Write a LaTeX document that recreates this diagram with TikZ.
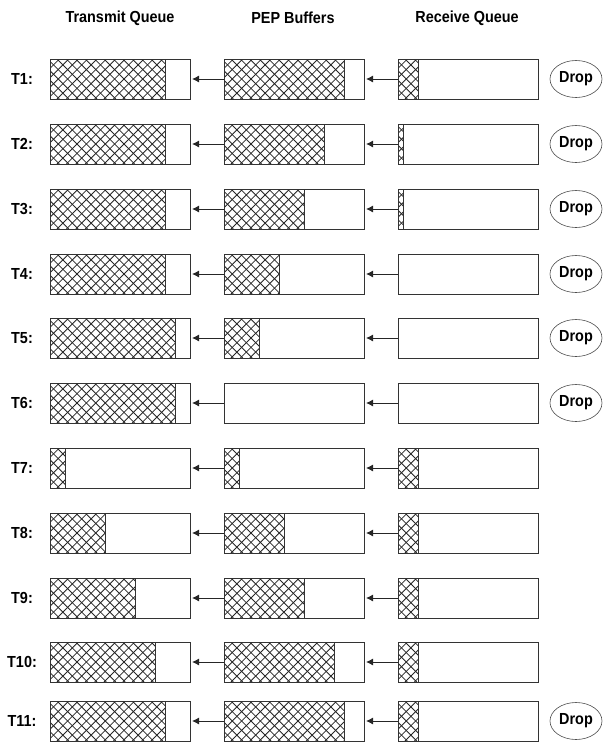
\documentclass[tikz,border=0pt]{standalone}
\usepackage{fontspec}
\newfontfamily\qfont[FakeStretch=0.9]{Liberation Sans}
\usetikzlibrary{shapes.geometric,arrows.meta}

\tikzset{
  qbox/.style={draw=black!80, line width=0.9pt, minimum width=140pt, minimum height=40pt,
               inner sep=0pt, outer sep=0pt},
  hatchline/.style={draw=black!85, line width=0.8pt},
  qsplit/.style={draw=black!80, line width=0.9pt},
  flow/.style={draw=black!85, line width=0.9pt, -{Latex[length=7pt,width=7pt]}, shorten >=2pt},
  dropnode/.style={ellipse, draw=black!70, line width=0.6pt, minimum width=52pt, minimum height=37pt,
                   inner sep=0pt, font=\qfont\bfseries\fontsize{16}{18}\selectfont},
  rowlabel/.style={font=\qfont\bfseries\fontsize{16}{18}\selectfont, inner sep=0pt},
  heading/.style={font=\qfont\bfseries\fontsize{16}{18}\selectfont, inner sep=0pt}
}

% cross-hatched block from x=#1 to x=#2, centred on y=#3, closed by a divider at #2
\newcommand\qhatch[3]{%
  \begin{scope}
    \clip (#1,#3-20) rectangle (#2,#3+20);
    \foreach \k in {0,...,22} {
      \draw[hatchline] (#1-40+9.4*\k,#3-20) -- ++(40,40);
      \draw[hatchline] (#1-40+9.4*\k,#3+20) -- ++(40,-40);
    }
  \end{scope}
  \draw[qsplit] (#2,#3-20) -- (#2,#3+20);
}

\begin{document}
\begin{tikzpicture}[x=1pt, y=-1pt]
  \useasboundingbox (0,0) rectangle (605,742);

  % column headings
  \node[heading] (hT) at (120,18) {Transmit Queue};
  \node[heading] (hP) at (293,18) {PEP Buffers};
  \node[heading] (hR) at (467,18) {Receive Queue};

  % row / y / end of filled part in transmit, PEP, receive (0 = empty) / drop shown
  \foreach \i/\y/\a/\b/\c/\d in {
      1/79/165/344/418/1,
      2/144/165/324/403/1,
      3/209/165/304/403/1,
      4/274/165/279/0/1,
      5/338/175/259/0/1,
      6/403/175/0/0/1,
      7/468/65/239/418/0,
      8/533/105/284/418/0,
      9/598/135/304/418/0,
      10/662/155/334/418/0,
      11/721/165/344/418/1} {
    \node[rowlabel] (lab\i) at (22,\y) {T\i:};

    % filled parts of the three queues
    \ifnum\a>0 \qhatch{50}{\a}{\y}\fi
    \ifnum\b>0 \qhatch{224}{\b}{\y}\fi
    \ifnum\c>0 \qhatch{398}{\c}{\y}\fi

    % queue outlines
    \node[qbox] (tq\i) at (120,\y) {};
    \node[qbox] (pb\i) at (294,\y) {};
    \node[qbox] (rq\i) at (468,\y) {};

    \draw[flow] (pb\i.west) -- (tq\i.east);
    \draw[flow] (rq\i.west) -- (pb\i.east);

    \ifnum\d=1
      \node[dropnode] (drop\i) at (576,\y) {Drop};
    \fi
  }
\end{tikzpicture}
\end{document}
